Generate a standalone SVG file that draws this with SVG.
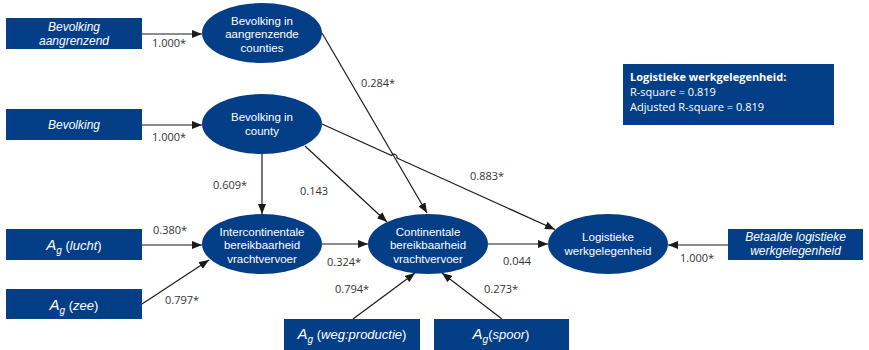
<svg xmlns="http://www.w3.org/2000/svg" width="869" height="350" viewBox="0 0 869 350">
<defs>
<marker id="ah" markerWidth="10" markerHeight="8" refX="10" refY="4" orient="auto" markerUnits="userSpaceOnUse">
<path d="M0,0 L10,4 L0,8 Z" fill="#1a1a1a"/>
</marker>
<style>
.box{fill:#043e87}
.ell{fill:#043e87}
.t{font-family:"Liberation Sans",Arial,sans-serif;font-size:11.5px;fill:#fff;text-anchor:middle}
.ti{font-family:"Liberation Sans",Arial,sans-serif;font-size:12px;fill:#fff;text-anchor:middle;font-style:italic}
.lbl{font-family:"Open Sans","Liberation Sans",sans-serif;font-size:11px;fill:#333}
.ca{stroke:#1a1a1a;stroke-width:1.2;fill:none;marker-end:url(#ah)}
.st{font-family:"Open Sans","Liberation Sans",sans-serif;font-size:11px;fill:#fff}
</style>
</defs>
<rect width="869" height="350" fill="#fff"/>

<g id="connectors">
<line class="ca" x1="142" y1="34" x2="202" y2="34"/>
<line class="ca" x1="142" y1="125" x2="202" y2="125"/>
<line class="ca" x1="322" y1="33" x2="427" y2="213"/>
<path class="ca" d="M322,124 L391.5,155.6 A3,3 0 0 1 396.9,158.0 L555,229.5"/>
<line class="ca" x1="262" y1="154" x2="262" y2="214"/>
<line class="ca" x1="305" y1="146" x2="387" y2="222"/>
<line class="ca" x1="142" y1="245" x2="202" y2="245"/>
<line class="ca" x1="142" y1="304" x2="209" y2="260"/>
<line class="ca" x1="322" y1="244" x2="368" y2="244"/>
<line class="ca" x1="488" y1="244" x2="548" y2="244"/>
<line class="ca" x1="728" y1="245" x2="668" y2="245"/>
<line class="ca" x1="353" y1="319" x2="415" y2="273"/>
<line class="ca" x1="502" y1="319" x2="442" y2="273"/>
</g>

<g id="labels">
<text class="lbl" x="152" y="47">1.000*</text>
<text class="lbl" x="152" y="141">1.000*</text>
<text class="lbl" x="361" y="87">0.284*</text>
<text class="lbl" x="213" y="189">0.609*</text>
<text class="lbl" x="300" y="195">0.143</text>
<text class="lbl" x="470" y="180">0.883*</text>
<text class="lbl" x="153" y="234">0.380*</text>
<text class="lbl" x="165" y="304">0.797*</text>
<text class="lbl" x="327" y="266">0.324*</text>
<text class="lbl" x="503" y="265">0.044</text>
<text class="lbl" x="335" y="293">0.794*</text>
<text class="lbl" x="484" y="293">0.273*</text>
<text class="lbl" x="680" y="262">1.000*</text>
</g>

<g id="box-bevolking-aangrenzend">
<rect class="box" x="6" y="18" width="136" height="31"/>
<text class="ti" x="74" y="30.5">Bevolking</text>
<text class="ti" x="74" y="44.5">aangrenzend</text>
</g>
<g id="box-bevolking">
<rect class="box" x="6" y="109" width="136" height="31"/>
<text class="ti" x="74" y="129">Bevolking</text>
</g>
<g id="box-lucht">
<rect class="box" x="6" y="229" width="136" height="31"/>
<text class="t" x="74" y="250"><tspan font-style="italic" font-size="15">A</tspan><tspan font-style="italic" font-size="10" dy="4">g</tspan><tspan dy="-4" font-size="13"> (</tspan><tspan font-style="italic" font-size="13">lucht</tspan><tspan font-size="13">)</tspan></text>
</g>
<g id="box-zee">
<rect class="box" x="6" y="289" width="136" height="30"/>
<text class="t" x="74" y="310"><tspan font-style="italic" font-size="15">A</tspan><tspan font-style="italic" font-size="10" dy="4">g</tspan><tspan dy="-4" font-size="13"> (</tspan><tspan font-style="italic" font-size="13">zee</tspan><tspan font-size="13">)</tspan></text>
</g>
<g id="box-weg">
<rect class="box" x="284" y="319" width="136" height="31"/>
<text class="t" x="352" y="339"><tspan font-style="italic" font-size="15">A</tspan><tspan font-style="italic" font-size="10" dy="4">g</tspan><tspan dy="-4" font-size="13"> (</tspan><tspan font-style="italic" font-size="13">weg:productie</tspan><tspan font-size="13">)</tspan></text>
</g>
<g id="box-spoor">
<rect class="box" x="434" y="319" width="135" height="31"/>
<text class="t" x="501" y="339"><tspan font-style="italic" font-size="15">A</tspan><tspan font-style="italic" font-size="10" dy="4">g</tspan><tspan dy="-4" font-size="13">(</tspan><tspan font-style="italic" font-size="13">spoor</tspan><tspan font-size="13">)</tspan></text>
</g>
<g id="box-betaalde">
<rect class="box" x="728" y="229" width="135" height="31"/>
<text class="ti" x="795.5" y="241">Betaalde logistieke</text>
<text class="ti" x="795.5" y="255">werkgelegenheid</text>
</g>

<g id="ell-aangrenzende">
<ellipse class="ell" cx="262" cy="33" rx="60" ry="30"/>
<text class="t" x="262" y="24.5">Bevolking in</text>
<text class="t" x="262" y="38">aangrenzende</text>
<text class="t" x="262" y="51.5">counties</text>
</g>
<g id="ell-county">
<ellipse class="ell" cx="262" cy="124" rx="60" ry="30"/>
<text class="t" x="262" y="121">Bevolking in</text>
<text class="t" x="262" y="134.5">county</text>
</g>
<g id="ell-intercontinentale">
<ellipse class="ell" cx="262" cy="244" rx="60" ry="30"/>
<text class="t" x="262" y="235.5">Intercontinentale</text>
<text class="t" x="262" y="249">bereikbaarheid</text>
<text class="t" x="262" y="262.5">vrachtvervoer</text>
</g>
<g id="ell-continentale">
<ellipse class="ell" cx="428" cy="244" rx="60" ry="30"/>
<text class="t" x="428" y="235.5">Continentale</text>
<text class="t" x="428" y="249">bereikbaarheid</text>
<text class="t" x="428" y="262.5">vrachtvervoer</text>
</g>
<g id="ell-logistieke">
<ellipse class="ell" cx="608" cy="244" rx="60" ry="30"/>
<text class="t" x="608" y="241">Logistieke</text>
<text class="t" x="608" y="254.5">werkgelegenheid</text>
</g>

<g id="stats">
<rect class="box" x="623" y="64" width="211" height="61"/>
<text class="st" x="630" y="81" font-weight="bold">Logistieke werkgelegenheid:</text>
<text class="st" x="630" y="96">R-square = 0.819</text>
<text class="st" x="630" y="111">Adjusted R-square = 0.819</text>
</g>
</svg>
